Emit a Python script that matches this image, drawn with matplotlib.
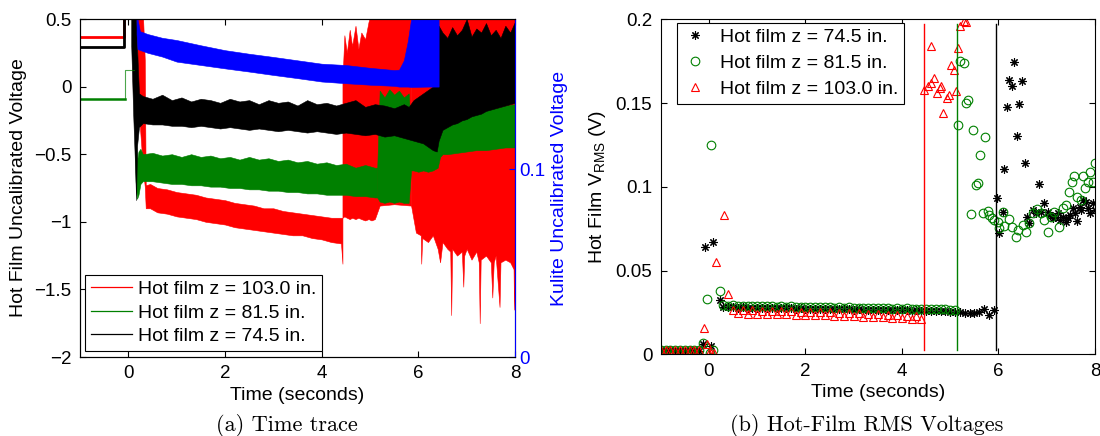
"""
Hot-film time traces and RMS voltages (two panels)
"""

import numpy as np
import matplotlib
matplotlib.use('Agg')
import matplotlib.pyplot as plt
from matplotlib.lines import Line2D
from matplotlib.ticker import FuncFormatter

plt.rcParams['font.family'] = ['Liberation Sans', 'DejaVu Sans']

GREEN = (0, 0.5, 0)

# ---------------- (a) time trace: envelopes ----------------
# pre-trigger levels [V]
red_pre_t = [-1.0, -0.08, -0.08]
red_pre_v = [0.366, 0.366, 0.55]
black_pre_t = [-1.0, -0.08, -0.08]
black_pre_v = [0.292, 0.292, 0.55]
green_pre_t = [-1.0, -0.07]
green_pre_v = [-0.091, -0.091]
green_step_t = [-0.07, -0.07, 0.12]
green_step_v = [-0.091, 0.126, 0.126]

# red (z = 103.0 in.) : trigger + quiet part
red_t1 = [0.17, 0.22, 0.30, 0.34, 0.36, 0.45, 0.6, 0.8, 1.0, 1.2, 1.4, 1.6, 1.8, 2.0,
          2.2, 2.4, 2.6, 2.8, 3.0, 3.2, 3.4, 3.6, 3.8, 4.0, 4.2, 4.4, 4.43]
red_hi1 = [0.55, 0.55, 0.55, 0.20, -0.73, -0.72, -0.75, -0.76, -0.78, -0.79, -0.80, -0.82,
           -0.83, -0.84, -0.86, -0.87, -0.88, -0.90, -0.90, -0.92, -0.93, -0.94, -0.95,
           -0.96, -0.97, -0.97, -0.97]
red_lo1 = [0.50, -0.20, -0.60, -0.74, -0.90, -0.90, -0.93, -0.94, -0.96, -0.97, -0.98, -1.00,
           -1.01, -1.02, -1.04, -1.05, -1.06, -1.07, -1.08, -1.09, -1.10, -1.10, -1.12,
           -1.13, -1.15, -1.16, -1.31]
# red burst
red_t2 = [4.43, 4.47, 4.52, 4.58, 4.63, 4.7, 4.76, 4.82, 4.9, 4.97, 5.03, 5.1, 5.2, 5.5, 5.85]
red_hi2 = [0.05, 0.38, 0.25, 0.42, 0.30, 0.45, 0.28, 0.40, 0.35, 0.48, 0.55, 0.55, 0.55, 0.55, 0.55]
red_lo2 = [-0.97, -0.96, -0.97, -0.98, -0.97, -0.98, -0.97, -0.98, -0.99, -0.98, -0.99, -0.98,
           -0.88, -0.87, -0.88]
# red late turbulent part (upper edge hidden behind the other traces)
red_t3 = [5.85, 5.95, 6.05, 6.06, 6.08, 6.2, 6.3, 6.4, 6.45, 6.5, 6.6, 6.66, 6.68, 6.7, 6.8,
          6.9, 6.93, 6.95, 7.0, 7.1, 7.2, 7.25, 7.27, 7.29, 7.4, 7.5, 7.53, 7.56, 7.6, 7.68,
          7.7, 7.8, 7.9, 7.97, 7.98, 8.0]
red_lo3 = [-0.88, -1.08, -1.10, -1.31, -1.12, -1.15, -1.10, -1.20, -1.30, -1.15, -1.20, -1.22,
           -1.69, -1.20, -1.25, -1.22, -1.48, -1.25, -1.20, -1.28, -1.22, -1.30, -1.75, -1.28,
           -1.25, -1.30, -1.56, -1.30, -1.25, -1.63, -1.30, -1.28, -1.30, -1.35, -1.65, -1.30]

# green (z = 81.5 in.)
green_t1 = [0.12, 0.15, 0.18, 0.21, 0.25, 0.3, 0.5, 0.7, 0.9, 1.1, 1.3, 1.5, 1.7, 1.9, 2.1,
            2.3, 2.5, 2.7, 2.9, 3.1, 3.3, 3.5, 3.7, 3.9, 4.1, 4.3, 4.5, 4.7, 4.9, 5.1, 5.15]
green_hi1 = [0.126, -0.30, -0.55, -0.48, -0.46, -0.50, -0.49, -0.51, -0.50, -0.52, -0.50, -0.52,
             -0.51, -0.53, -0.52, -0.54, -0.52, -0.54, -0.53, -0.55, -0.54, -0.56, -0.55, -0.57,
             -0.56, -0.58, -0.57, -0.60, -0.58, -0.60, -0.60]
green_lo1 = [0.10, -0.70, -0.83, -0.80, -0.72, -0.70, -0.70, -0.71, -0.72, -0.72, -0.73, -0.73,
             -0.74, -0.74, -0.75, -0.75, -0.76, -0.76, -0.77, -0.77, -0.78, -0.78, -0.79, -0.79,
             -0.80, -0.80, -0.80, -0.81, -0.81, -0.82, -0.82]
green_t2 = [5.15, 5.2, 5.3, 5.4, 5.5, 5.6, 5.7, 5.8, 5.85, 5.9, 6.0, 6.1, 6.2, 6.3, 6.4, 6.45,
            6.5, 6.6, 6.8, 7.0, 7.2, 7.4, 7.6, 7.8, 8.0]
green_hi2 = [-0.60, -0.03, -0.08, -0.02, -0.06, -0.03, -0.08, -0.05, -0.35, -0.38, -0.36, -0.40,
             -0.38, -0.40, -0.42, -0.30, -0.28, -0.24, -0.22, -0.20, -0.18, -0.17, -0.16, -0.14,
             -0.13]
green_lo2 = [-0.82, -0.85, -0.86, -0.85, -0.86, -0.85, -0.86, -0.86, -0.62, -0.62, -0.63, -0.62,
             -0.63, -0.62, -0.60, -0.52, -0.50, -0.50, -0.49, -0.48, -0.47, -0.47, -0.46, -0.45,
             -0.45]

# black (z = 74.5 in.)
black_t = [0.06, 0.10, 0.14, 0.16, 0.18, 0.22,
           0.3, 0.5, 0.7, 0.9, 1.1, 1.3, 1.5, 1.7, 1.9, 2.1, 2.3, 2.5, 2.7, 2.9,
           3.1, 3.3, 3.5, 3.7, 3.9, 4.1, 4.3, 4.5, 4.7, 4.9, 5.1, 5.3, 5.5, 5.7,
           5.8, 5.9, 6.1, 6.3, 6.38, 6.42,
           6.5, 6.6, 6.7, 6.8, 6.9, 7.0, 7.1, 7.2, 7.3, 7.4, 7.5, 7.6, 7.7, 7.8, 7.9, 8.0]
black_hi = [0.55, 0.55, 0.55, 0.55, 0.30, -0.05,
            -0.07, -0.09, -0.06, -0.10, -0.08, -0.11, -0.09, -0.10, -0.12, -0.09, -0.11, -0.10,
            -0.13, -0.10, -0.12, -0.11, -0.14, -0.10, -0.13, -0.12, -0.14, -0.12, -0.10, -0.15,
            -0.13, -0.14, -0.16, -0.13,
            -0.15, -0.10, -0.05, 0.0, 0.10, 0.45,
            0.40, 0.36, 0.44, 0.38, 0.42, 0.50, 0.37, 0.43, 0.40, 0.47, 0.38, 0.42, 0.36, 0.45,
            0.40, 0.48]
black_lo = [0.30, -0.20, -0.60, -0.84, -0.44, -0.30,
            -0.27, -0.28, -0.28, -0.29, -0.29, -0.30, -0.29, -0.30, -0.31, -0.30, -0.31, -0.32,
            -0.31, -0.32, -0.33, -0.32, -0.33, -0.34, -0.33, -0.34, -0.35, -0.34, -0.35, -0.36,
            -0.35, -0.37, -0.36, -0.38,
            -0.39, -0.40, -0.42, -0.47, -0.48, -0.40,
            -0.32, -0.30, -0.28, -0.27, -0.25, -0.24, -0.22, -0.21, -0.20, -0.18, -0.17, -0.16,
            -0.15, -0.14, -0.13, -0.12]

# Kulite (right axis units)
kulite_t = [0.17, 0.19, 0.24, 0.4, 0.7, 1.0, 1.5, 2.0, 2.5, 3.0, 3.5, 4.0, 4.5, 5.0, 5.5,
            5.6, 5.7, 5.78, 5.85, 6.2, 6.38, 6.42]
kulite_hi = [0.180, 0.180, 0.1735, 0.172, 0.170, 0.1688, 0.166, 0.1634, 0.1615, 0.1598, 0.158,
             0.1562, 0.1555, 0.154, 0.1528, 0.153, 0.158, 0.168, 0.180, 0.180, 0.180, 0.180]
kulite_lo = [0.172, 0.164, 0.1635, 0.162, 0.160, 0.1573, 0.1555, 0.1537, 0.152, 0.1502, 0.1485,
             0.1467, 0.1458, 0.145, 0.1444, 0.1440, 0.1440, 0.1440, 0.1438, 0.1440, 0.1440, 0.1440]

# ---------------- (b) RMS voltages ----------------
rms_base_t = [-1.0, -0.9, -0.8, -0.7, -0.6, -0.5, -0.4, -0.3, -0.2]
black_rms_base = [0.0022, 0.0021, 0.0023, 0.0022, 0.0021, 0.0022, 0.0023, 0.0021, 0.0022]
green_rms_base = [0.0027, 0.0026, 0.0028, 0.0027, 0.0026, 0.0027, 0.0028, 0.0026, 0.0027]
red_rms_base = [0.0024, 0.0023, 0.0025, 0.0024, 0.0023, 0.0024, 0.0025, 0.0023, 0.0024]

black_rms_trig_t = [-0.12, -0.08, 0.05, 0.09, 0.23]
black_rms_trig = [0.006, 0.064, 0.005, 0.067, 0.0325]
green_rms_trig_t = [-0.12, -0.05, 0.02, 0.05, 0.08, 0.23]
green_rms_trig = [0.007, 0.033, 0.0005, 0.125, 0.0025, 0.038]
red_rms_trig_t = [-0.10, -0.05, 0.0, 0.05, 0.10, 0.15, 0.31, 0.40]
red_rms_trig = [0.016, 0.006, 0.001, 0.0005, 0.0005, 0.055, 0.083, 0.036]

# quiet plateau, one value every 0.1 s
black_rms_plat_t0 = 0.3
black_rms_plat = [0.0282, 0.0280, 0.0281, 0.0279, 0.0280, 0.0278, 0.0279, 0.0277, 0.0278, 0.0276,
                  0.0277, 0.0275, 0.0276, 0.0274, 0.0275, 0.0273, 0.0274, 0.0272, 0.0273, 0.0271,
                  0.0272, 0.0270, 0.0271, 0.0269, 0.0270, 0.0268, 0.0269, 0.0267, 0.0268, 0.0266,
                  0.0267, 0.0265, 0.0266, 0.0264, 0.0265, 0.0263, 0.0264, 0.0262, 0.0263, 0.0261,
                  0.0262, 0.0260, 0.0261, 0.0259, 0.0260, 0.0258, 0.0257, 0.0255, 0.0253,
                  0.0250, 0.0247, 0.0249, 0.0246, 0.0250, 0.0272, 0.0235, 0.0265]
green_rms_plat_t0 = 0.3
green_rms_plat = [0.0293, 0.0290, 0.0292, 0.0289, 0.0291, 0.0288, 0.0290, 0.0287, 0.0289, 0.0286,
                  0.0288, 0.0285, 0.0287, 0.0284, 0.0286, 0.0283, 0.0285, 0.0282, 0.0284, 0.0281,
                  0.0283, 0.0280, 0.0282, 0.0279, 0.0281, 0.0278, 0.0280, 0.0277, 0.0279, 0.0276,
                  0.0278, 0.0275, 0.0277, 0.0274, 0.0276, 0.0273, 0.0275, 0.0272, 0.0274, 0.0271,
                  0.0273, 0.0270, 0.0272, 0.0269, 0.0271, 0.0268, 0.0269, 0.0266, 0.0267]
red_rms_plat_t0 = 0.5
red_rms_plat = [0.0265, 0.0245, 0.0262, 0.0243, 0.0262, 0.0242, 0.0260, 0.0241, 0.0259, 0.0240,
                0.0258, 0.0238, 0.0257, 0.0237, 0.0255, 0.0236, 0.0254, 0.0234, 0.0252, 0.0232,
                0.0250, 0.0231, 0.0248, 0.0229, 0.0246, 0.0227, 0.0244, 0.0225, 0.0242, 0.0222,
                0.0240, 0.0220, 0.0237, 0.0218, 0.0234, 0.0215, 0.0231, 0.0212, 0.0228, 0.0210]

# after transition
black_rms_turb_t = [5.97, 6.02, 6.09, 6.12, 6.18, 6.22, 6.27, 6.33, 6.38, 6.43,
                    6.48, 6.54, 6.59, 6.64, 6.71, 6.77, 6.83, 6.88, 6.94, 7.02,
                    7.07, 7.12, 7.18, 7.23, 7.28, 7.33, 7.39, 7.44, 7.49, 7.54,
                    7.59, 7.63, 7.68, 7.72, 7.75, 7.82, 7.86, 7.89, 7.95, 7.99]
black_rms_turb = [0.0936, 0.0723, 0.0852, 0.1105, 0.1475, 0.1639, 0.1603, 0.1748, 0.1304, 0.1493,
                  0.1634, 0.1141, 0.0822, 0.0782, 0.0862, 0.0842, 0.1015, 0.0852, 0.0906, 0.0852,
                  0.0832, 0.0812, 0.0822, 0.0842, 0.0802, 0.0822, 0.0792, 0.0812, 0.0832, 0.0872,
                  0.0842, 0.0798, 0.0882, 0.0862, 0.0922, 0.0912, 0.0872, 0.0842, 0.0902, 0.0862]
green_rms_turb_t = [5.17, 5.21, 5.28, 5.33, 5.37, 5.42, 5.47, 5.53, 5.57, 5.62,
                    5.67, 5.72, 5.78, 5.81, 5.86, 5.91, 5.98, 6.02, 6.09, 6.12,
                    6.22, 6.29, 6.36, 6.40, 6.50, 6.57, 6.64, 6.71, 6.80, 6.88,
                    6.95, 7.02, 7.09, 7.16, 7.26, 7.33, 7.40, 7.47, 7.52, 7.57,
                    7.63, 7.70, 7.75, 7.79, 7.85, 7.90, 7.95, 8.00]
green_rms_turb = [0.137, 0.175, 0.174, 0.150, 0.152, 0.084, 0.134, 0.101, 0.1025, 0.119,
                  0.0846, 0.130, 0.0858, 0.0832, 0.0812, 0.0802, 0.0792, 0.0753, 0.0852, 0.0766,
                  0.0806, 0.0762, 0.0699, 0.0743, 0.0772, 0.0732, 0.0786, 0.0842, 0.0866, 0.0842,
                  0.0802, 0.0732, 0.0822, 0.0852, 0.0762, 0.0872, 0.0892, 0.0971, 0.1031, 0.1065,
                  0.0941, 0.0922, 0.1065, 0.0992, 0.1031, 0.1091, 0.1031, 0.1145]
red_rms_turb_t = [4.46, 4.53, 4.60, 4.61, 4.67, 4.72, 4.78, 4.81, 4.86, 4.93, 4.97, 5.01,
                  5.07, 5.12, 5.17, 5.21, 5.28, 5.33]
red_rms_turb = [0.158, 0.160, 0.162, 0.184, 0.165, 0.156, 0.159, 0.160, 0.144, 0.153, 0.155,
                0.173, 0.170, 0.157, 0.183, 0.196, 0.199, 0.1985]

# transition times marked by vertical lines
transition_t = [4.46, 5.13, 5.95]
transition_colors = ['r', GREEN, 'k']

labels = ['Hot film z = 103.0 in.', 'Hot film z = 81.5 in.', 'Hot film z = 74.5 in.']


def series(base, trig_t, trig, t0, plat, turb_t, turb):
    plat_t = t0 + 0.1 * np.arange(len(plat))
    t = np.concatenate([rms_base_t, trig_t, plat_t, turb_t])
    v = np.concatenate([base, trig, plat, turb])
    return t, v


fmt = FuncFormatter(lambda v, _: ('%g' % v).replace('-', '\u2212'))
W, H = 1100, 436
fig = plt.figure(figsize=(W / 100, H / 100), dpi=100)

# ---------- left panel ----------
ax1 = fig.add_axes([80 / W, (H - 357) / H, 435 / W, 338 / H])
ax1.fill_between(red_t1, red_lo1, red_hi1, color='r', lw=0.4)
ax1.fill_between(red_t2, red_lo2, red_hi2, color='r', lw=0.4)
ax1.fill_between(red_t3, red_lo3, 0.55, color='r', lw=0.4)
ax1.plot(red_pre_t, red_pre_v, color='r', lw=2)
ax1.fill_between(green_t1, green_lo1, green_hi1, color=GREEN, lw=0.4)
ax1.fill_between(green_t2, green_lo2, green_hi2, color=GREEN, lw=0.4)
ax1.plot(green_pre_t, green_pre_v, color=GREEN, lw=1.8)
ax1.plot(green_step_t, green_step_v, color=GREEN, lw=0.8, alpha=0.7)
ax1.fill_between(black_t, black_lo, black_hi, color='k', lw=0.4)
ax1.plot(black_pre_t, black_pre_v, color='k', lw=2)

ax1.set_xlim(-1, 8)
ax1.set_ylim(-2, 0.5)
ax1.set_xticks([0, 2, 4, 6, 8])
ax1.set_yticks([-2, -1.5, -1, -0.5, 0, 0.5])
ax1.yaxis.set_major_formatter(fmt)
ax1.tick_params(direction='in', length=4, width=0.8, labelsize=13.5, top=True, right=True, pad=6)
ax1.set_xlabel('Time (seconds)', fontsize=14, labelpad=3)
ax1.set_ylabel('Hot Film Uncalibrated Voltage', fontsize=14)
ax1.yaxis.set_label_coords(-0.122, 0.5)

handles = [Line2D([], [], color=c, lw=0.9) for c in ['r', GREEN, 'k']]
leg = ax1.legend(handles, labels, loc='lower left', bbox_to_anchor=(85 / W, (H - 351) / H),
                 bbox_transform=fig.transFigure, fontsize=14, frameon=True, fancybox=False,
                 framealpha=1, edgecolor='k', borderaxespad=0, borderpad=0.3,
                 labelspacing=0.3, handlelength=2.1, handletextpad=0.3)
leg.get_frame().set_linewidth(0.8)

ax2 = ax1.twinx()
ax2.fill_between(kulite_t, kulite_lo, kulite_hi, color='b', lw=0.4)
ax2.set_ylim(0, 0.18)
ax2.set_yticks([0, 0.1])
ax2.yaxis.set_major_formatter(fmt)
ax2.tick_params(direction='in', length=4, width=0.8, labelsize=13.5, colors='b', pad=3)
ax2.set_ylabel('Kulite Uncalibrated Voltage', fontsize=14, color='b')
ax2.yaxis.set_label_coords(1.082, 0.5)

# ---------- right panel ----------
ax3 = fig.add_axes([660.7 / W, (H - 354.3) / H, 434.3 / W, 334.8 / H])
bt, bv = series(black_rms_base, black_rms_trig_t, black_rms_trig, black_rms_plat_t0,
                black_rms_plat, black_rms_turb_t, black_rms_turb)
gt, gv = series(green_rms_base, green_rms_trig_t, green_rms_trig, green_rms_plat_t0,
                green_rms_plat, green_rms_turb_t, green_rms_turb)
rt, rv = series(red_rms_base, red_rms_trig_t, red_rms_trig, red_rms_plat_t0,
                red_rms_plat, red_rms_turb_t, red_rms_turb)
ax3.plot(bt, bv, ls='none', marker=(8, 2, 0), ms=6, mew=0.8, color='k',
         label='Hot film z = 74.5 in.')
ax3.plot(gt, gv, ls='none', marker='o', ms=6.2, mew=0.8, mfc='none', mec=GREEN,
         label='Hot film z = 81.5 in.')
ax3.plot(rt, rv, ls='none', marker='^', ms=6.2, mew=0.8, mfc='none', mec='r',
         label='Hot film z = 103.0 in.')
for tt, cc in zip(transition_t, transition_colors):
    ax3.plot([tt, tt], [0.0025, 0.1975], color=cc, lw=1)

ax3.set_xlim(-1, 8)
ax3.set_ylim(0, 0.2)
ax3.set_xticks([0, 2, 4, 6, 8])
ax3.set_yticks([0, 0.05, 0.1, 0.15, 0.2])
ax3.yaxis.set_major_formatter(fmt)
ax3.tick_params(direction='in', length=4, width=0.8, labelsize=13.5, top=True, right=True, pad=6)
ax3.set_xlabel('Time (seconds)', fontsize=14, labelpad=3)
ax3.set_ylabel(r'Hot Film V$_\mathregular{RMS}$ (V)', fontsize=14)
ax3.yaxis.set_label_coords(-0.121, 0.5)
leg2 = ax3.legend(loc='upper left', bbox_to_anchor=(677 / W, (H - 22.7) / H),
                  bbox_transform=fig.transFigure, fontsize=14, frameon=True, fancybox=False,
                  framealpha=1, edgecolor='k', borderaxespad=0, borderpad=0.3,
                  labelspacing=0.42, handlelength=1.2, handletextpad=0.7, numpoints=1)
leg2.get_frame().set_linewidth(0.8)

for ax in (ax1, ax2, ax3):
    for s in ax.spines.values():
        s.set_linewidth(0.8)
ax2.spines['right'].set_color('b')

fig.text(287 / W, 1 - 425 / H, '(a) Time trace', fontname='cmr10', fontsize=16,
         ha='center', va='center')
fig.text(867 / W, 1 - 425 / H, '(b) Hot-Film RMS Voltages', fontname='cmr10', fontsize=16,
         ha='center', va='center')

fig.savefig('out.png', dpi=100)
